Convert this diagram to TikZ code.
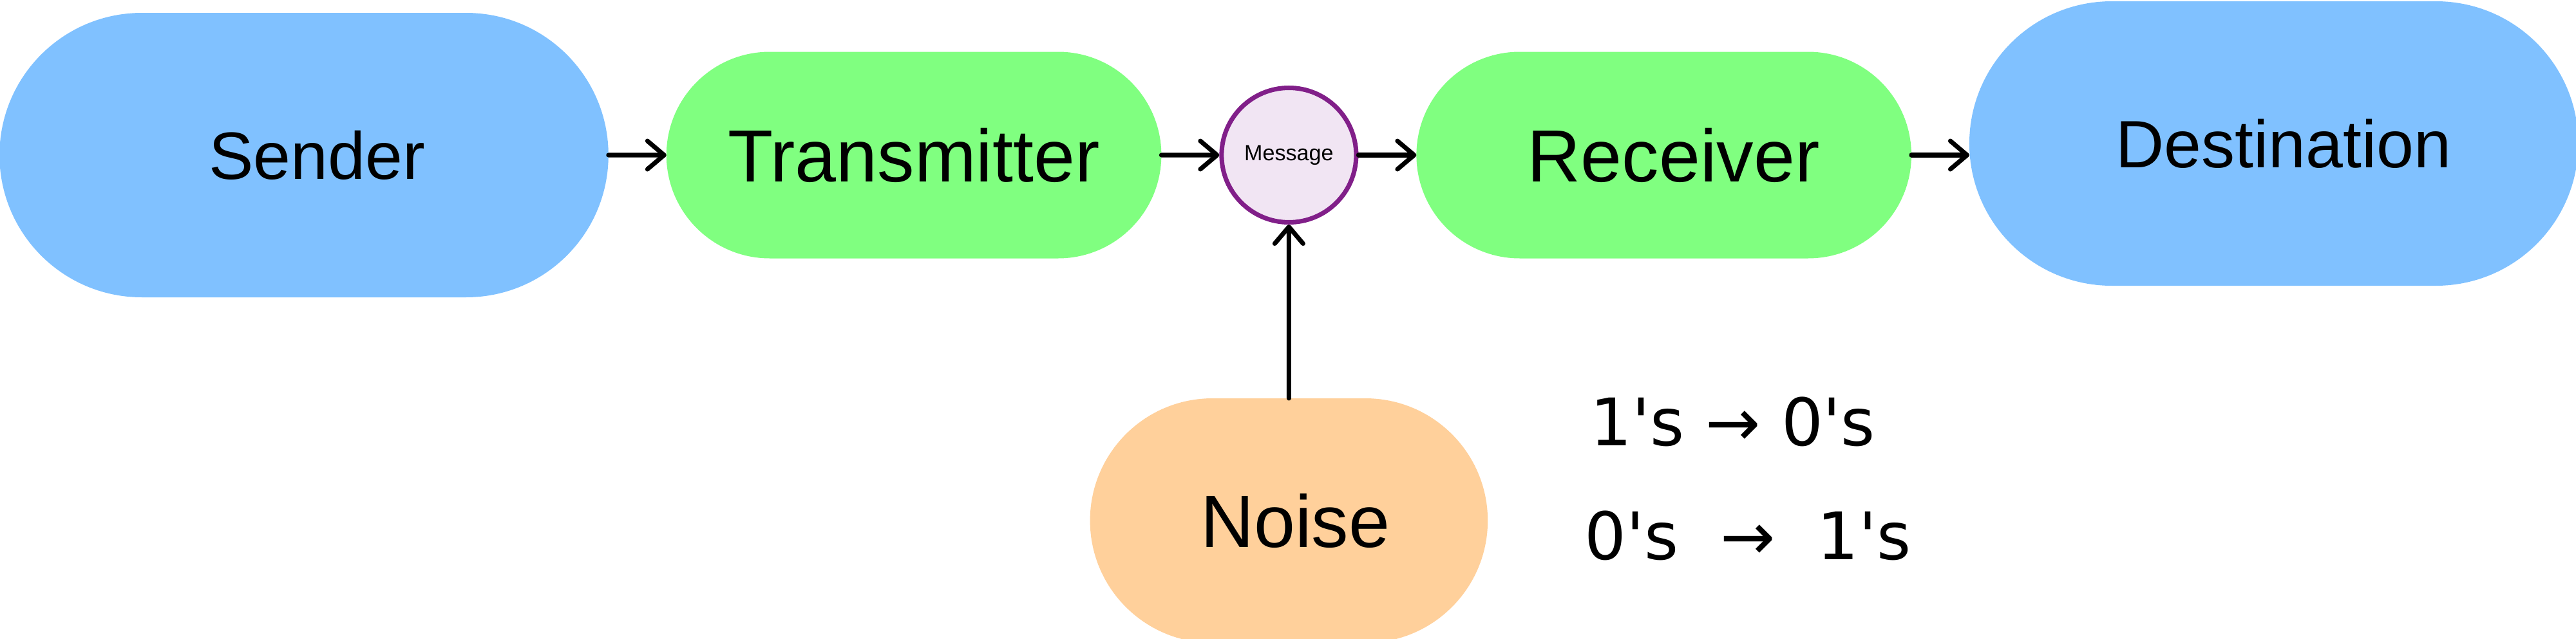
\documentclass[tikz,border=0pt]{standalone}
\usepackage{fontspec}
\setmainfont{Liberation Sans}
\newfontfamily\scrawlfont{DejaVu Sans}
\usepackage{tikz}
\usepackage{xcolor}
\usetikzlibrary{shapes.misc, arrows.meta, positioning}
\definecolor{endblue}{RGB}{128,193,255}
\definecolor{midgreen}{RGB}{128,255,128}
\definecolor{noiseorange}{RGB}{255,208,155}
\definecolor{msgfill}{RGB}{241,229,243}
\definecolor{msgring}{RGB}{129,31,137}
\tikzstyle{blocke} = [rounded rectangle, fill=endblue, outer sep=0pt, minimum width=9.69cm, minimum height=4.42cm, font=\fontsize{29.6}{32}\selectfont]
\tikzstyle{blockm} = [rounded rectangle, fill=midgreen, outer sep=0pt, minimum width=7.92cm, minimum height=3.21cm, font=\fontsize{32.7}{36}\selectfont]
\tikzstyle{blockn} = [rounded rectangle, fill=noiseorange, outer sep=0pt, minimum width=6.41cm, minimum height=3.80cm, font=\fontsize{32.7}{36}\selectfont]
\tikzstyle{blockc} = [circle, draw=msgring, fill=msgfill, line width=2pt, minimum size=2.09cm, inner sep=0pt, font=\fontsize{9.7}{11}\selectfont]
\tikzstyle{scrawl} = [inner sep=0, font=\scrawlfont\fontsize{29}{32}\selectfont]
\tikzstyle{line} = [draw, -{Straight Barb[length=2.6mm, width=4.4mm, round]}, line width=2pt, line cap=round]

\begin{document}
\begin{tikzpicture}[node distance=0.9cm]
\useasboundingbox (0,0) rectangle (40,-9.93);

\node [blocke, text depth=0pt] (sender) at (4.72,-2.41) {\hspace{0.4cm}Sender};
\node [blockm, right=of sender] (trans) {Transmitter};
\node [blockc, right=of trans] (msg) {Message};
\node [blockm, right=of msg] (rec) {\hspace{0.3cm}Receiver};
\node [blocke, right=of rec, yshift=0.18cm] (dest) {\hspace{0.3cm}Destination};
\node [blockn, below=2.7cm of msg] (noise) {\hspace{0.2cm}Noise};

\node [scrawl] (flipa) at (26.91,-6.55) {1's → 0's};
\node [scrawl] (flipb) at (27.14,-8.32) {0's \ → \ 1's};

\path [line] (sender) -- (trans);
\path [line] (trans) -- (msg);
\path [line] (msg) -- (rec);
\path [line] (rec.east) -- (rec.east -| dest.west);
\path [line] (noise) -- (msg);

\end{tikzpicture}
\end{document}
